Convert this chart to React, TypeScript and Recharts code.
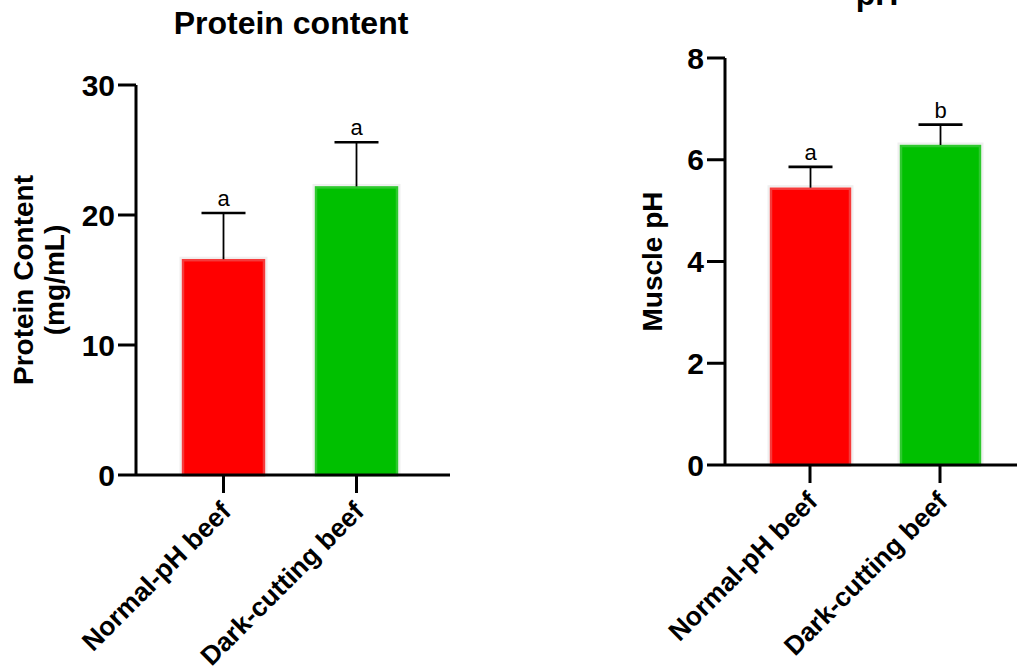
import React from "react";
import { Bar, BarChart, XAxis, YAxis } from "recharts";

const groups = ["Normal-pH beef", "Dark-cutting beef"];
const proteinMean = [16.6, 22.2];
const proteinSd = [3.55, 3.4];
const proteinLetters = ["a", "a"];
const phMean = [5.45, 6.29];
const phSd = [0.41, 0.4];
const phLetters = ["a", "b"];
const proteinTicks = [0, 10, 20, 30];
const phTicks = [0, 2, 4, 6, 8];

const fills = ["#ff0000", "#00c000"];
const edges = ["#f53b3b", "#2fc82f"];
const FONT = '"Liberation Sans", Arial, Helvetica, sans-serif';

type Row = { name: string; mean: number; sd: number; letter: string; idx: number };

const buildRows = (means: number[], sds: number[], letters: string[]): Row[] =>
  groups.map((name, i) => ({ name, mean: means[i], sd: sds[i], letter: letters[i], idx: i }));

const proteinData = buildRows(proteinMean, proteinSd, proteinLetters);
const phData = buildRows(phMean, phSd, phLetters);

// bar + upper whisker + significance letter, scaled from the bar's own pixel height
const BarWithError = (props: any) => {
  const { x, y, width, height, payload } = props;
  if (!payload || !height) return null;
  const row = payload as Row;
  const pxPerUnit = height / row.mean;
  const top = y - row.sd * pxPerUnit;
  const cx = x + width / 2;
  return (
    <g>
      <rect x={x - 1.5} y={y - 1.5} width={width + 3} height={height + 1.5} fill="none" stroke="#efefef" strokeWidth={2} />
      <rect x={x + 1} y={y + 1} width={width - 2} height={height - 1} fill={fills[row.idx]} stroke={edges[row.idx]} strokeWidth={2.5} />
      <line x1={cx} x2={cx} y1={y} y2={top} stroke="#000" strokeWidth={1.8} />
      <line x1={cx - 22} x2={cx + 22} y1={top} y2={top} stroke="#000" strokeWidth={2.6} />
      <text x={cx} y={top - 7} textAnchor="middle" fontFamily={FONT} fontSize={22} fill="#000">
        {row.letter}
      </text>
    </g>
  );
};

const AngledTick = (props: any) => {
  const { x, y, payload } = props;
  return (
    <g transform={`translate(${x + 9},${y + 18})`}>
      <text x={0} y={0} textAnchor="end" transform="rotate(-45)" fontFamily={FONT} fontWeight="bold" fontSize={26.5} fill="#000">
        {payload.value}
      </text>
    </g>
  );
};

const axisStyle = { stroke: "#000", strokeWidth: 3 };
const tickStyle = { fontFamily: FONT, fontWeight: "bold", fontSize: 30, fill: "#000" };

function Panel({
  data,
  ticks,
  width,
  yAxisWidth,
  top,
  bottom,
  padding,
  barSize,
  labelLines,
  labelX
}: {
  data: Row[];
  ticks: number[];
  width: number;
  yAxisWidth: number;
  top: number;
  bottom: number;
  padding: { left: number; right: number };
  barSize: number;
  labelLines: string[];
  labelX: number[];
}) {
  const renderYLabel = (p: any) => {
    const vb = p.viewBox || {};
    const cy = (vb.y || 0) + (vb.height || 0) / 2;
    return (
      <g>
        {labelLines.map((line, i) => (
          <text
            key={line}
            x={labelX[i]}
            y={cy}
            textAnchor="middle"
            transform={`rotate(-90, ${labelX[i]}, ${cy})`}
            fontFamily={FONT}
            fontWeight="bold"
            fontSize={28}
            fill="#000"
          >
            {line}
          </text>
        ))}
      </g>
    );
  };
  return (
    <BarChart width={width} height={672} data={data} margin={{ top, right: 0, left: 0, bottom }} barSize={barSize}>
      <XAxis
        dataKey="name"
        interval={0}
        height={150}
        padding={padding}
        axisLine={axisStyle}
        tickLine={axisStyle}
        tickSize={18}
        tick={<AngledTick />}
      />
      <YAxis
        width={yAxisWidth}
        domain={[ticks[0], ticks[ticks.length - 1]]}
        ticks={ticks}
        interval={0}
        axisLine={axisStyle}
        tickLine={axisStyle}
        tickSize={18}
        tickMargin={3}
        tick={tickStyle}
        label={{ content: renderYLabel }}
      />
      <Bar dataKey="mean" shape={<BarWithError />} isAnimationActive={false} />
    </BarChart>
  );
}

export default function App() {
  return (
    <div style={{ position: "absolute", left: 0, top: 0, width: 1017, height: 672, overflow: "hidden", background: "#fff", fontFamily: FONT }}>
      <div style={{ position: "absolute", left: 0, top: 0 }}>
        <Panel
          data={proteinData}
          ticks={proteinTicks}
          width={450}
          yAxisWidth={136}
          top={85}
          bottom={47}
          padding={{ left: 21, right: 27 }}
          barSize={83}
          labelLines={["Protein Content", "(mg/mL)"]}
          labelX={[33, 64]}
        />
      </div>
      <div style={{ position: "absolute", left: 560, top: 0 }}>
        <Panel
          data={phData}
          ticks={phTicks}
          width={457}
          yAxisWidth={165}
          top={58}
          bottom={57}
          padding={{ left: 20, right: 12 }}
          barSize={81}
          labelLines={["Muscle pH"]}
          labelX={[102]}
        />
      </div>
      <div style={{ position: "absolute", left: 134, width: 314, top: 5, textAlign: "center", fontWeight: "bold", fontSize: 32, lineHeight: "37px" }}>
        Protein content
      </div>
      <div style={{ position: "absolute", left: 725, width: 304, top: -24, textAlign: "center", fontWeight: "bold", fontSize: 32, lineHeight: "37px" }}>
        pH
      </div>
    </div>
  );
}
